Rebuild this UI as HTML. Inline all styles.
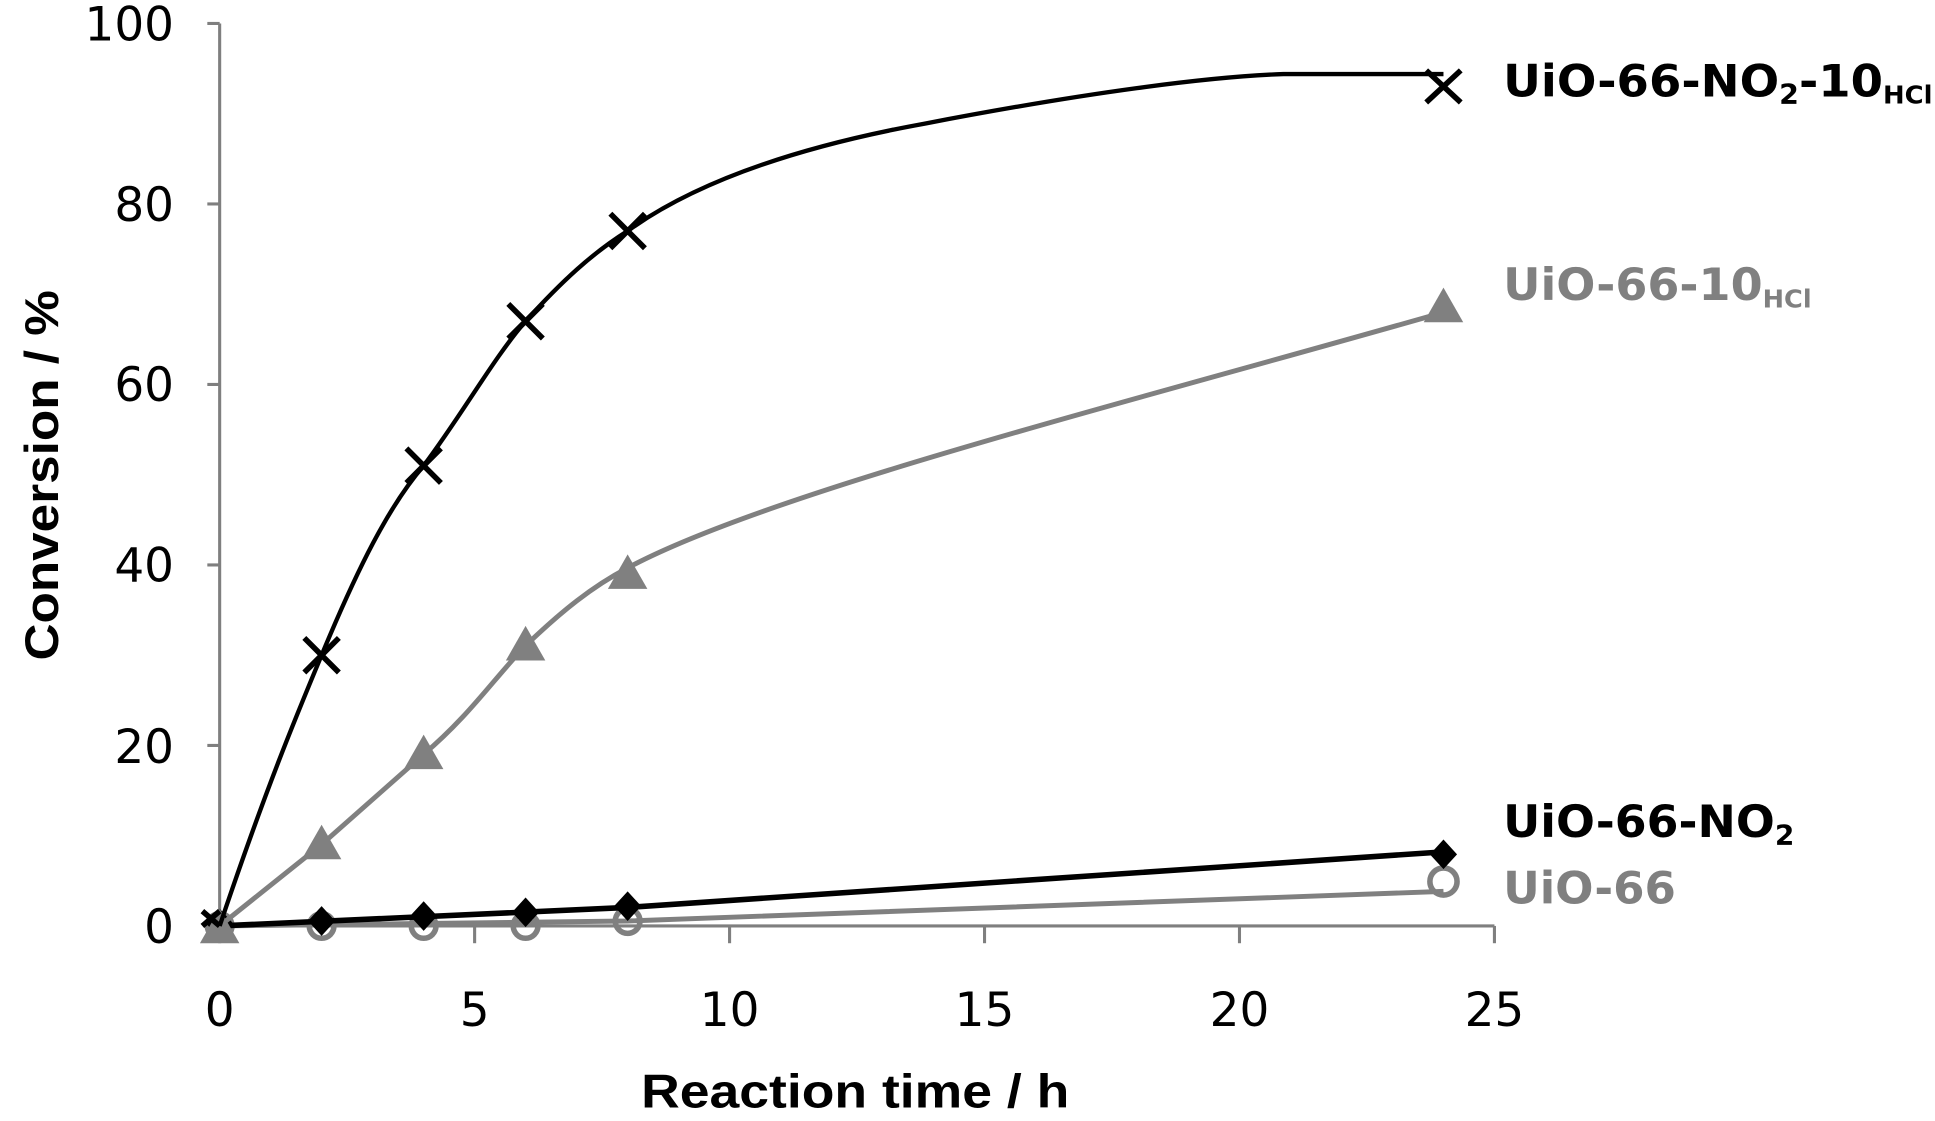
<!DOCTYPE html>
<html><head><meta charset="utf-8"><style>html,body{margin:0;padding:0;background:#fff}svg{display:block}</style></head>
<body>
<svg width="1935" height="1121" viewBox="0 0 1568 908" preserveAspectRatio="none" xmlns="http://www.w3.org/2000/svg">
<g stroke="#7f7f7f" stroke-width="2.5" fill="none">
<line x1="178" y1="19" x2="178" y2="750"/>
<line x1="178" y1="750" x2="1211" y2="750"/>
<line x1="168" y1="19" x2="178" y2="19"/>
<line x1="168" y1="165.2" x2="178" y2="165.2"/>
<line x1="168" y1="311.4" x2="178" y2="311.4"/>
<line x1="168" y1="457.6" x2="178" y2="457.6"/>
<line x1="168" y1="603.8" x2="178" y2="603.8"/>
<line x1="168" y1="750" x2="178" y2="750"/>
<line x1="178" y1="750" x2="178" y2="764"/>
<line x1="384.6" y1="750" x2="384.6" y2="764"/>
<line x1="591.2" y1="750" x2="591.2" y2="764"/>
<line x1="797.8" y1="750" x2="797.8" y2="764"/>
<line x1="1004.4" y1="750" x2="1004.4" y2="764"/>
<line x1="1211" y1="750" x2="1211" y2="764"/>
</g>
<g font-family="DejaVu Sans, sans-serif" font-size="38" fill="#000" text-anchor="end">
<text x="141" y="33">100</text>
<text x="141" y="179">80</text>
<text x="141" y="325">60</text>
<text x="141" y="471">40</text>
<text x="141" y="618">20</text>
<text x="141" y="764">0</text>
</g>
<g font-family="DejaVu Sans, sans-serif" font-size="38" fill="#000" text-anchor="middle">
<text x="178" y="831">0</text>
<text x="384.6" y="831">5</text>
<text x="591.2" y="831">10</text>
<text x="797.8" y="831">15</text>
<text x="1004.4" y="831">20</text>
<text x="1211" y="831">25</text>
</g>
<text x="693" y="897" font-family="Liberation Sans, sans-serif" font-weight="bold" font-size="38" text-anchor="middle" textLength="347" lengthAdjust="spacingAndGlyphs">Reaction time / h</text>
<text transform="translate(47,385) rotate(-90)" font-family="Liberation Sans, sans-serif" font-weight="bold" font-size="38" text-anchor="middle" textLength="300" lengthAdjust="spacingAndGlyphs">Conversion / %</text>

<!-- UiO-66 -->
<path d="M178,750 L508.6,746 L1169.7,722" stroke="#808080" stroke-width="4" fill="none"/>
<g stroke="#808080" stroke-width="4.5" fill="none">
<circle cx="178" cy="750" r="10"/><circle cx="260.6" cy="750" r="10"/><circle cx="343.3" cy="750" r="10"/><circle cx="425.9" cy="750" r="10"/><circle cx="508.6" cy="746" r="10"/><circle cx="1169.7" cy="714" r="11"/>
</g>
<!-- UiO-66-NO2 -->
<path d="M178,750 L508.6,735 L1169.7,690" stroke="#000" stroke-width="4.5" fill="none"/>
<g fill="#000">
<path d="M178,736 l11,12 l-11,12 l-11,-12z"/><path d="M260.6,734 l11,12 l-11,12 l-11,-12z"/><path d="M343.3,730 l11,12 l-11,12 l-11,-12z"/><path d="M425.9,727 l11,12 l-11,12 l-11,-12z"/><path d="M508.6,722 l11,12 l-11,12 l-11,-12z"/><path d="M1169.7,680 l11,12 l-11,12 l-11,-12z"/>
</g>
<!-- UiO-66-10HCl -->
<path d="M178,750 L260.6,684 L343.3,611 C380,580 400,550 425.9,523 C455,495 480,475 508.6,460 C620,400 900,330 1169.7,253" stroke="#808080" stroke-width="4" fill="none"/>
<g fill="#808080">
<path d="M178,736 l16,28 h-32z"/><path d="M260.6,668 l16,28 h-32z"/><path d="M343.3,595 l16,28 h-32z"/><path d="M425.9,507 l16,28 h-32z"/><path d="M508.6,449 l16,28 h-32z"/><path d="M1169.7,233 l16,28 h-32z"/>
</g>
<!-- UiO-66-NO2-10HCl -->
<path d="M178,750 C215,640 240,580 260.6,530.7 C290,460 315,410 343.3,377.2 C375,335 400,290 425.9,260.2 C455,228 480,205 508.6,187.1 C560,150 640,120 750,100 C880,75 980,62 1040,60 L1169.7,60" stroke="#000" stroke-width="3.5" fill="none"/>
<g stroke="#000" stroke-width="4.5">
<path d="M246.6,516.7 l28,28 M274.6,516.7 l-28,28"/>
<path d="M329.3,363.2 l28,28 M357.3,363.2 l-28,28"/>
<path d="M411.9,246.2 l28,28 M439.9,246.2 l-28,28"/>
<path d="M494.6,173.1 l28,28 M522.6,173.1 l-28,28"/>
<path d="M1155.7,57 l28,26 M1183.7,57 l-28,26"/>
<path d="M164,738 l14,12 M178,738 l-14,12"/>
</g>
<g font-family="DejaVu Sans, sans-serif" font-weight="bold">
<text x="1218" y="78" font-size="36" fill="#000" textLength="348" lengthAdjust="spacingAndGlyphs">UiO-66-NO<tspan font-size="22" dy="6">2</tspan><tspan dy="-6">-10</tspan><tspan font-size="20" dy="6">HCl</tspan></text>
<text x="1218" y="243" font-size="36" fill="#808080" textLength="250" lengthAdjust="spacingAndGlyphs">UiO-66-10<tspan font-size="20" dy="6">HCl</tspan></text>
<text x="1218" y="678" font-size="36" fill="#000" textLength="236" lengthAdjust="spacingAndGlyphs">UiO-66-NO<tspan font-size="22" dy="6">2</tspan></text>
<text x="1218" y="732" font-size="36" fill="#808080" textLength="140" lengthAdjust="spacingAndGlyphs">UiO-66</text>
</g>
</svg>
</body></html>
